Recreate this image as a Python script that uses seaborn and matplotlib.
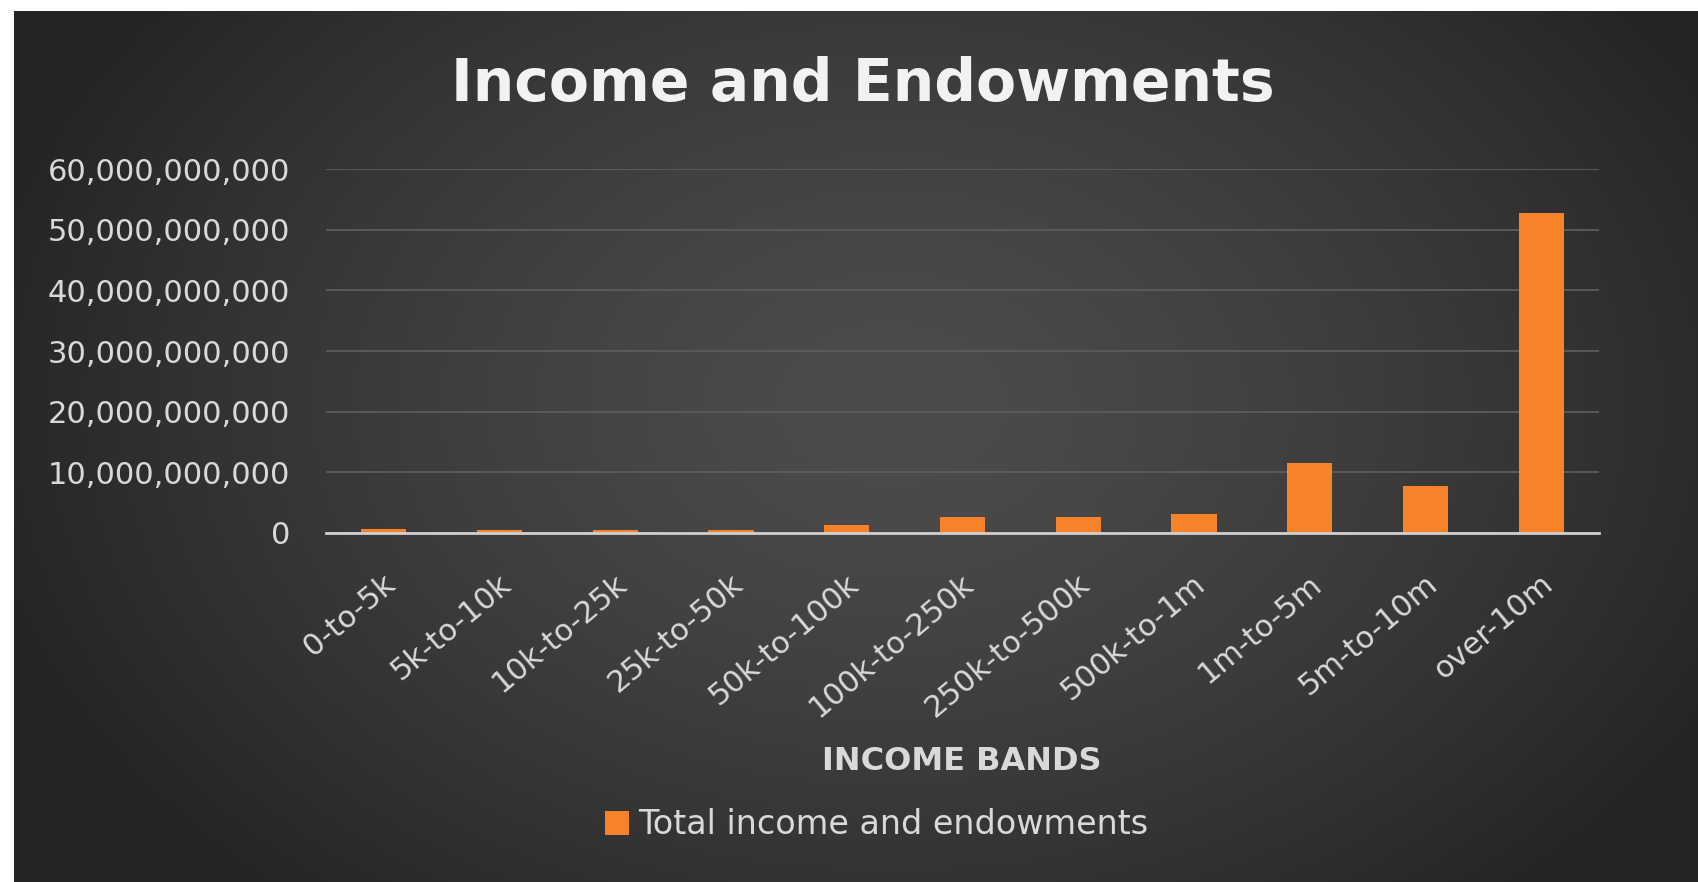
import numpy as np
import pandas as pd
import matplotlib
matplotlib.use("Agg")
import matplotlib.pyplot as plt
import matplotlib.transforms as mtrans
import seaborn as sns
from matplotlib.ticker import FuncFormatter, MultipleLocator

# ---- data ----
bands = ["0-to-5k", "5k-to-10k", "10k-to-25k", "25k-to-50k", "50k-to-100k",
         "100k-to-250k", "250k-to-500k", "500k-to-1m", "1m-to-5m", "5m-to-10m", "over-10m"]
totals = [0.6e9, 0.55e9, 0.55e9, 0.5e9, 1.25e9, 2.7e9, 2.6e9, 3.1e9, 11.6e9, 7.7e9, 52.7e9]
series_name = "Total income and endowments"
title = "Income and Endowments"
xlabel = "INCOME BANDS"

df = pd.DataFrame({"band": bands, "value": totals, "series": series_name})

sns.set_theme(style="dark")
plt.rcParams["font.family"] = ["DejaVu Sans"]

W, H = 1698, 882
fig = plt.figure(figsize=(W / 100, H / 100), dpi=100)
fig.patch.set_facecolor("white")

# background gradient panel (chart area)
bg = fig.add_axes([14 / W, 0, 1 - 14 / W, 1 - 11 / H])
bg.set_axis_off()
ny, nx = 300, 600
yy, xx = np.mgrid[0:ny, 0:nx]
cx, cy = nx * 0.52, ny * 0.45
r = np.sqrt(((xx - cx) / (nx * 0.55)) ** 2 + ((yy - cy) / (ny * 0.75)) ** 2)
r = np.clip(r, 0, 1)
inner = np.array([0x4c, 0x4c, 0x4c]) / 255
outer = np.array([0x25, 0x25, 0x25]) / 255
img = inner[None, None, :] * (1 - r[..., None] ** 1.4) + outer[None, None, :] * (r[..., None] ** 1.4)
bg.imshow(img, aspect="auto", extent=[0, 1, 0, 1], interpolation="bilinear")

ax = fig.add_axes([326 / W, 1 - 533 / H, 1273 / W, (533 - 169) / H])
ax.set_facecolor("none")
ax.patch.set_alpha(0)

orange = "#F7822A"
sns.barplot(data=df, x="band", y="value", hue="series", palette=[orange],
            width=0.39, dodge=False, ax=ax, saturation=1, linewidth=0, edgecolor="none")

ax.set_ylim(0, 60e9)
ax.set_xlim(-0.5, len(bands) - 0.5)
ax.yaxis.set_major_locator(MultipleLocator(10e9))
ax.yaxis.set_major_formatter(FuncFormatter(lambda v, p: f"{int(round(v)):,}"))
ax.grid(axis="y", color="#5c5c5c", linewidth=1.3)
ax.grid(axis="x", visible=False)
ax.set_axisbelow(True)
for s in ["top", "right", "left"]:
    ax.spines[s].set_visible(False)
ax.spines["bottom"].set_visible(True)
ax.spines["bottom"].set_color("#d0d0d0")
ax.spines["bottom"].set_linewidth(2)

ax.tick_params(axis="y", colors="#d9d9d9", labelsize=22, length=0, pad=26)
ax.tick_params(axis="x", colors="#d9d9d9", labelsize=22, length=0, pad=26)
ax.set_xticks(range(len(bands)))
ax.set_xticklabels(bands, rotation=40, ha="right", rotation_mode="anchor", color="#d9d9d9")
off = mtrans.ScaledTranslation(-1 / 72, 0, fig.dpi_scale_trans)
for lab in ax.get_xticklabels():
    lab.set_transform(lab.get_transform() + off)

ax.set_xlabel("")
ax.set_ylabel("")

handles, labels = ax.get_legend_handles_labels()
if ax.get_legend() is not None:
    ax.get_legend().remove()

fig.text(863 / W, 1 - 84 / H, title, ha="center", va="center", fontsize=42,
         fontweight="bold", color="#f2f2f2")
fig.text(962 / W, 1 - 762 / H, xlabel, ha="center", va="center", fontsize=23,
         fontweight="bold", color="#d9d9d9")
fig.legend(handles, labels, loc="center", bbox_to_anchor=(877 / W, 1 - 825 / H),
           frameon=False, fontsize=24, labelcolor="#d9d9d9",
           handlelength=0.7, handleheight=0.7, handletextpad=0.3)

fig.savefig("out.png", dpi=100, facecolor=fig.get_facecolor())
